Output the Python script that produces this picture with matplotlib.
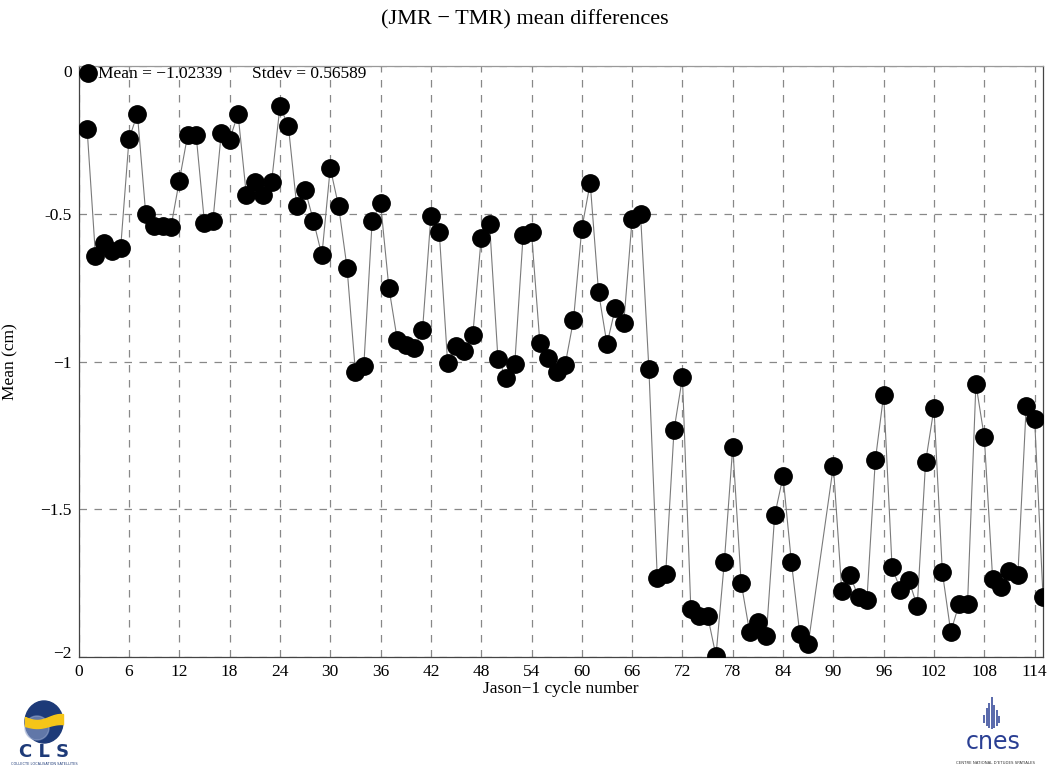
import numpy as np
import matplotlib
matplotlib.use("Agg")
import matplotlib.pyplot as plt
import matplotlib.transforms as mtransforms
from matplotlib.patches import Ellipse

# ---- data ----
cycles = [1, 2, 3, 4, 5, 6, 7, 8, 9, 10, 11, 12, 13, 14, 15, 16, 17, 18, 19, 20,
          21, 22, 23, 24, 25, 26, 27, 28, 29, 30, 31, 32, 33, 34, 35, 36, 37, 38, 39, 40,
          41, 42, 43, 44, 45, 46, 47, 48, 49, 50, 51, 52, 53, 54, 55, 56, 57, 58, 59, 60,
          61, 62, 63, 64, 65, 66, 67, 68, 69, 70, 71, 72, 73, 74, 75, 76, 77, 78, 79, 80,
          81, 82, 83, 84, 85, 86, 87, 90, 91, 92, 93, 94, 95, 96, 97, 98, 99, 100,
          101, 102, 103, 104, 105, 106, 107, 108, 109, 110, 111, 112, 113, 114, 115]
mean_diff = [-0.212, -0.642, -0.599, -0.625, -0.617, -0.247, -0.162, -0.502, -0.543, -0.543,
             -0.545, -0.388, -0.233, -0.233, -0.531, -0.526, -0.227, -0.249, -0.162, -0.438,
             -0.393, -0.438, -0.393, -0.137, -0.202, -0.473, -0.419, -0.524, -0.641, -0.345,
             -0.475, -0.682, -1.036, -1.015, -0.523, -0.464, -0.752, -0.927, -0.943, -0.953,
             -0.895, -0.509, -0.563, -1.005, -0.946, -0.963, -0.910, -0.582, -0.535, -0.991,
             -1.056, -1.009, -0.573, -0.563, -0.938, -0.989, -1.034, -1.013, -0.861, -0.550,
             -0.396, -0.766, -0.941, -0.819, -0.871, -0.517, -0.500, -1.025, -1.733, -1.719,
             -1.231, -1.054, -1.838, -1.860, -1.860, -1.996, -1.677, -1.288, -1.748, -1.914,
             -1.882, -1.929, -1.521, -1.389, -1.680, -1.922, -1.956, -1.353, -1.775, -1.724,
             -1.798, -1.807, -1.335, -1.112, -1.696, -1.773, -1.739, -1.829, -1.340, -1.158,
             -1.714, -1.915, -1.820, -1.820, -1.076, -1.256, -1.737, -1.762, -1.708, -1.724,
             -1.149, -1.194, -1.796]
xticks = list(range(0, 115, 6))
yticks = [-2, -1.5, -1, -0.5, 0]
ytick_labels = ["\u22122", "\u22121.5", "\u22121", "-0.5", "0"]
title = "(JMR \u2212 TMR) mean differences"
xlabel = "Jason\u22121 cycle number"
ylabel = "Mean (cm)"
mean_text = "Mean = \u22121.02339"
std_text = "Stdev = 0.56589"

plt.rcParams['font.family'] = ['Liberation Serif', 'DejaVu Serif']

W, H = 1049, 767
fig = plt.figure(figsize=(W / 100, H / 100), dpi=100)
ax = fig.add_axes([78.7 / W, 1 - 657 / H, (1043 - 78.7) / W, (657 - 66) / H])

ax.plot(cycles, mean_diff, color='#7a7a7a', lw=0.8, zorder=2, clip_on=True)
ax.plot(cycles, mean_diff, ls='none', marker='o', ms=12.5, color='black', zorder=3, clip_on=True)

ax.set_xlim(0, 115)
ax.set_ylim(-2, 0)
ax.set_xticks(xticks)
ax.set_yticks(yticks)
ax.set_yticklabels(ytick_labels)
ax.tick_params(axis='both', which='both', length=0, labelsize=12.5, pad=5)
ax.grid(True, color='#888888', ls=(0, (6, 6)), lw=0.9)
for s in ax.spines.values():
    s.set_color('#444444')
    s.set_linewidth(0.9)
ax.spines['top'].set_color('#999999')

# end labels sit slightly inside the axis range, as in the reference
ylabels = ax.get_yticklabels()
ylabels[0].set_transform(ylabels[0].get_transform() +
                         mtransforms.ScaledTranslation(0, 5 / 100, fig.dpi_scale_trans))
ylabels[-1].set_transform(ylabels[-1].get_transform() +
                          mtransforms.ScaledTranslation(0, -5 / 100, fig.dpi_scale_trans))

ax.set_xlabel(xlabel, fontsize=12.5, labelpad=1)
ax.set_ylabel(ylabel, fontsize=12.5)
ax.yaxis.set_label_coords((18 - 78.7) / (1043 - 78.7), 0.5)
fig.text(0.5, 1 - 20 / H, title, ha='center', va='center', fontsize=16)

# legend-like annotations
ax.plot([1.15], [-0.025], marker='o', ms=12.5, color='black', clip_on=False, zorder=4)
ax.text(2.3, -0.027, mean_text, fontsize=12.5, va='center', ha='left')
ax.text(20.7, -0.027, std_text, fontsize=12.5, va='center', ha='left')

# ---- CLS logo ----
lax = fig.add_axes([0, 0, 1, 1], zorder=-1)
lax.set_xlim(0, W)
lax.set_ylim(H, 0)
lax.axis('off')
lax.add_patch(Ellipse((44, 722), 38, 42, color='#1d3a78'))
lax.add_patch(Ellipse((37, 728), 24, 24, color='#9aaad0', alpha=0.55))
xs = np.linspace(25, 63, 50)
lax.fill_between(xs, 717 + 3 * np.sin((xs - 25) / 38 * np.pi * 1.6),
                 726 + 2 * np.sin((xs - 25) / 38 * np.pi * 1.6), color='#f5c518')
lax.text(44, 752, "C L S", ha='center', va='center', fontsize=13, color='#1d3a78',
         family='DejaVu Sans', weight='bold')
lax.text(44, 764, "COLLECTE LOCALISATION SATELLITES", ha='center', va='center', fontsize=2.5,
         color='#1d3a78', family='DejaVu Sans')

# ---- CNES logo ----
bar_dx = [-8, -5.5, -3, -0.5, 2, 4.5, 7]
bar_top = [715, 708, 703, 697, 705, 710, 716]
bar_bot = [723, 726, 728, 729, 728, 726, 723]
for dx, t, b in zip(bar_dx, bar_top, bar_bot):
    lax.plot([992 + dx, 992 + dx], [t, b], color='#2a3f93', lw=1.1, solid_capstyle='butt')
lax.text(993, 742, "cnes", ha='center', va='center', fontsize=17, color='#2a3f93',
         family='DejaVu Sans')
lax.text(995, 763, "CENTRE NATIONAL D'ETUDES SPATIALES", ha='center', va='center', fontsize=2.8,
         color='#333333', family='DejaVu Sans')

fig.savefig("out.png", dpi=100)
